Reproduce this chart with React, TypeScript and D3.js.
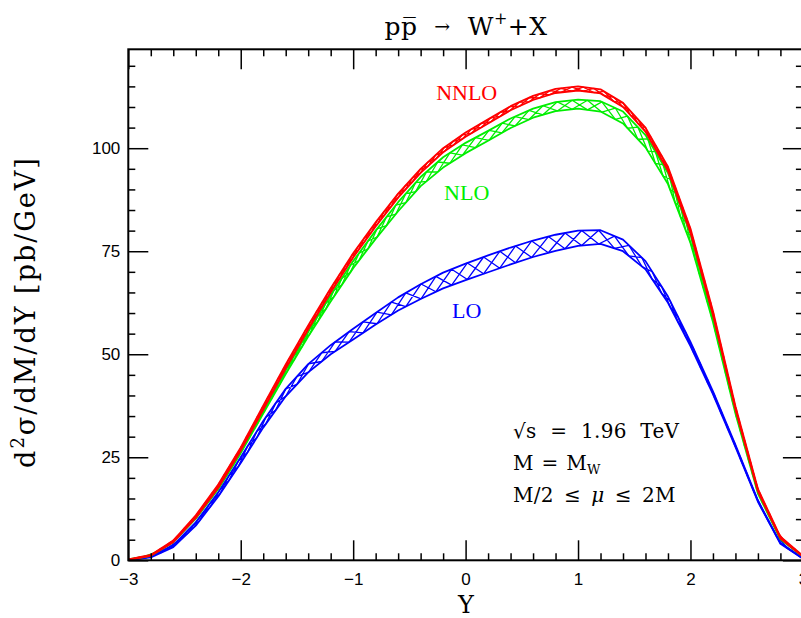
import * as d3 from 'd3';
import React, { useEffect, useRef } from 'react';

// rapidity grid
const rapidity = [-3, -2.8, -2.6, -2.4, -2.2, -2, -1.8, -1.6, -1.4, -1.2, -1, -0.8, -0.6, -0.4, -0.2, 0,
    0.2, 0.4, 0.6, 0.8, 1, 1.2, 1.4, 1.6, 1.8, 2, 2.2, 2.4, 2.6, 2.8, 3];

// NNLO band (upper / lower edge of the scale variation)
const nnloHi = [0.2, 1.3, 4.8, 10.9, 18.4, 27.4, 37.5, 47.5, 57, 66, 74.5, 82, 89, 95, 100, 103.8,
    107, 110.2, 112.7, 114.4, 115, 114.3, 111, 105, 95.5, 80.5, 60.5, 37.4, 17.3, 5.7, 1.1];
const nnloLo = [0.1, 1.1, 4.4, 10.3, 17.6, 26.6, 36.5, 46.5, 56, 65, 73.5, 81, 88, 94, 99, 102.8,
    106, 109.2, 111.7, 113.4, 114, 113.3, 110, 104, 94.5, 79.5, 59.5, 36.6, 16.7, 5.3, 0.9];

// NLO band
const nloHi = [0.2, 1.2, 4.5, 10.4, 17.7, 26.5, 36.4, 46.2, 55.5, 64.3, 72.6, 80, 86.9, 93, 97.8, 101.3,
    104.2, 107.2, 109.6, 111.2, 111.8, 111.4, 108.9, 103.2, 94, 79.2, 59.6, 36.8, 16.9, 5.4, 1];
const nloLo = [0.1, 1.1, 4.4, 10.1, 17.3, 26, 35.6, 45.2, 54.3, 62.8, 70.9, 78, 84.7, 90.8, 95.3, 98.8,
    101.8, 104.9, 107.4, 109, 109.6, 108.9, 106, 100.2, 91.3, 77, 57.8, 35.6, 16.2, 5.1, 0.9];

// LO band
const loHi = [0.1, 0.9, 3.7, 9.2, 16.5, 25, 33.8, 41.6, 47.6, 52.2, 56.2, 60, 63.8, 67, 69.8, 72,
    74, 75.9, 77.6, 79, 80, 80.1, 77.8, 72.6, 64, 53, 41, 28, 14.5, 4.2, 0.5];
const loLo = [0.05, 0.7, 3.2, 8.4, 15.5, 23.6, 32.2, 39.8, 45.6, 50, 53.6, 57.2, 60.6, 63.4, 66, 68,
    69.9, 71.8, 73.6, 75.1, 76.3, 76.8, 75, 70.6, 62.5, 52, 40.3, 27.5, 14.2, 4, 0.4];

const xTicks = [-3, -2, -1, 0, 1, 2, 3];
const yTicks = [0, 25, 50, 75, 100];

const RED = '#ff0000';
const GREEN = '#00ee00';
const BLUE = '#0000ff';

function App() {
    const ref = useRef<SVGGElement>(null);

    useEffect(() => {
        const svg = d3.select(ref.current);
        svg.selectAll('*').remove();

        const x = d3.scaleLinear().domain([-3, 3]).range([128.3, 802.9]);
        const y = d3.scaleLinear().domain([0, 124]).range([560.3, 49.3]);

        svg.append('defs').append('clipPath').attr('id', 'plotclip')
            .append('rect')
            .attr('x', x(-3)).attr('y', y(124))
            .attr('width', x(3) - x(-3)).attr('height', y(0) - y(124));

        const plot = svg.append('g').attr('clip-path', 'url(#plotclip)');

        const bands = [
            { hi: loHi, lo: loLo, color: BLUE, step: 17 },
            { hi: nloHi, lo: nloLo, color: GREEN, step: 15 },
            { hi: nnloHi, lo: nnloLo, color: RED, step: 11 },
        ];

        bands.forEach(b => {
            const fHi = d3.scaleLinear().domain(rapidity).range(b.hi);
            const fLo = d3.scaleLinear().domain(rapidity).range(b.lo);

            // hatch points equally spaced along the curve
            const fine = d3.range(-3, 3.0001, 0.004);
            const picks: number[] = [];
            let acc = 0;
            let next = 0;
            let prev: [number, number] | null = null;
            fine.forEach(t => {
                const p: [number, number] = [x(t), y((fHi(t) + fLo(t)) / 2)];
                if (prev) acc += Math.hypot(p[0] - prev[0], p[1] - prev[1]);
                if (acc >= next) { picks.push(t); next += b.step; }
                prev = p;
            });

            let d = '';
            for (let i = 0; i < picks.length - 1; i++) {
                const a = picks[i], c = picks[i + 1];
                d += `M${x(a)},${y(fHi(a))}L${x(c)},${y(fLo(c))}`;
                d += `M${x(a)},${y(fLo(a))}L${x(c)},${y(fHi(c))}`;
            }
            plot.append('path')
                .attr('d', d)
                .attr('fill', 'none')
                .attr('stroke', b.color)
                .attr('stroke-width', 1.3);

            const line = d3.line<number>()
                .x((_, i) => x(rapidity[i]))
                .y(v => y(v));

            [b.hi, b.lo].forEach(edge => {
                plot.append('path')
                    .datum(edge)
                    .attr('d', line)
                    .attr('fill', 'none')
                    .attr('stroke', b.color)
                    .attr('stroke-width', 1.8)
                    .attr('stroke-linejoin', 'round');
            });
        });

        // axes with inward ticks on all sides
        const xMinor = d3.range(-3, 3.001, 0.2).filter(v => Math.abs(v - Math.round(v)) > 0.01);
        const yMinor = d3.range(0, 124, 5).filter(v => v % 25 !== 0);
        const fmt = d3.format('d');

        const styleAxis = (g: any) => {
            g.select('.domain').remove();
            g.selectAll('line').attr('stroke', '#000').attr('stroke-width', 1.5);
            g.selectAll('text')
                .attr('fill', '#000')
                .style('font-family', '"Liberation Sans", Arial, sans-serif')
                .style('font-size', '17px');
        };

        svg.append('g').attr('transform', `translate(0,${y(0)})`)
            .call(d3.axisBottom(x).tickValues(xTicks).tickSize(-20).tickPadding(13).tickFormat(fmt))
            .call(styleAxis);
        svg.append('g').attr('transform', `translate(0,${y(0)})`)
            .call(d3.axisBottom(x).tickValues(xMinor).tickSize(-7).tickFormat(() => ''))
            .call(styleAxis);
        svg.append('g').attr('transform', `translate(0,${y(124)})`)
            .call(d3.axisTop(x).tickValues(xTicks).tickSize(-20).tickFormat(() => ''))
            .call(styleAxis);
        svg.append('g').attr('transform', `translate(0,${y(124)})`)
            .call(d3.axisTop(x).tickValues(xMinor).tickSize(-7).tickFormat(() => ''))
            .call(styleAxis);

        svg.append('g').attr('transform', `translate(${x(-3)},0)`)
            .call(d3.axisLeft(y).tickValues(yTicks).tickSize(-20).tickPadding(8).tickFormat(fmt))
            .call(styleAxis);
        svg.append('g').attr('transform', `translate(${x(-3)},0)`)
            .call(d3.axisLeft(y).tickValues(yMinor).tickSize(-7).tickFormat(() => ''))
            .call(styleAxis);
        svg.append('g').attr('transform', `translate(${x(3)},0)`)
            .call(d3.axisRight(y).tickValues(yTicks).tickSize(-20).tickFormat(() => ''))
            .call(styleAxis);
        svg.append('g').attr('transform', `translate(${x(3)},0)`)
            .call(d3.axisRight(y).tickValues(yMinor).tickSize(-7).tickFormat(() => ''))
            .call(styleAxis);

        svg.append('rect')
            .attr('x', x(-3)).attr('y', y(124))
            .attr('width', x(3) - x(-3)).attr('height', y(0) - y(124))
            .attr('fill', 'none')
            .attr('stroke', '#000')
            .attr('stroke-width', 2);

        // curve labels
        const serif = '"Liberation Serif", "Times New Roman", serif';
        [
            { t: 'NNLO', v: 111.7, c: RED },
            { t: 'NLO', v: 87.4, c: GREEN },
            { t: 'LO', v: 58.8, c: BLUE },
        ].forEach(l => {
            svg.append('text')
                .attr('x', x(0.01)).attr('y', y(l.v))
                .attr('text-anchor', 'middle')
                .attr('fill', l.c)
                .style('font-family', serif)
                .style('font-size', '22px')
                .text(l.t);
        });
    }, []);

    const dv = '"DejaVu Serif", serif';
    const note = { fontFamily: dv, fontSize: 20, letterSpacing: 0.3 };

    return (
        <svg width={801} height={618}
            style={{ position: 'absolute', left: 0, top: 0, background: '#fff', overflow: 'hidden' }}>
            <g ref={ref} />
            <text x={466} y={35} textAnchor="middle"
                style={{ fontFamily: dv, fontSize: 25, whiteSpace: 'pre', letterSpacing: 0.5 }}>
                {'pp\u0305  '}
                <tspan dy={-2} style={{ fontSize: 19 }}>{'\u2192'}</tspan>
                <tspan dy={2}>{'  W'}</tspan>
                <tspan dy={-11} style={{ fontSize: 16 }}>+</tspan>
                <tspan dy={11}>+X</tspan>
            </text>
            <text x={466} y={613} textAnchor="middle" style={{ fontFamily: dv, fontSize: 24 }}>Y</text>
            <text transform="translate(35,312) rotate(-90)" textAnchor="middle"
                style={{ fontFamily: dv, fontSize: 27, letterSpacing: 2 }}>
                d<tspan dy={-11} style={{ fontSize: 18 }}>2</tspan>
                <tspan dy={11}>σ/dM/dY [pb/GeV]</tspan>
            </text>
            <text x={513} y={438} style={{ ...note, wordSpacing: 7 }}>{'√s = 1.96 TeV'}</text>
            <text x={513} y={470} style={{ ...note, wordSpacing: 1 }}>
                {'M = M'}
                <tspan dy={4} style={{ fontSize: 13 }}>W</tspan>
            </text>
            <text x={513} y={502} style={{ ...note, wordSpacing: 3.5 }}>
                {'M/2 ≤ '}
                <tspan style={{ fontStyle: 'italic' }}>μ</tspan>
                {' ≤ 2M'}
            </text>
        </svg>
    );
}

export default App;
